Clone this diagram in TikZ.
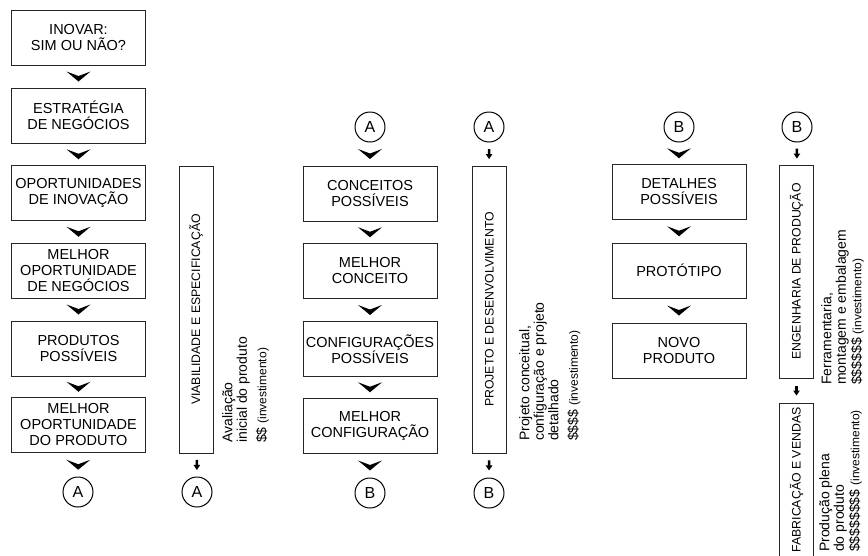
\documentclass[tikz,border=0pt]{standalone}
\usepackage{fontspec}
\setmainfont{Liberation Sans}
\usetikzlibrary{positioning, decorations.markings}
\tikzset{
    chev/.style args={#1 #2}{
        decoration={
            markings,
            mark= at position 0.5 with
                {
                    \fill[black] (0.5*#1,0pt) -- (-0.5*#1,#2/2) -- (-0.05*#1,0pt) -- (-0.5*#1,#2/-2) -- cycle;
                },
        },
        postaction={decorate}
    },
    chev/.default={10pt 24pt}
}
\tikzset{
    barrow/.style args={#1 #2}{
        decoration={
            markings,
            mark= at position 0.5 with
                {
                    \draw[line width=#2] (-0.5*#1,0pt) -- (0.1*#1,0pt);
                    \fill[black] (0.5*#1,0pt) -- (0pt,1.4*#2) -- (0pt,-1.4*#2) -- cycle;
                },
        },
        postaction={decorate}
    },
    barrow/.default={10pt 2.4pt}
}
\tikzset{
    box/.style={draw=black!85, line width=0.9pt, minimum width=134pt, minimum height=55pt,
        inner sep=2pt, align=center, font=\fontsize{14.5}{16}\selectfont},
    bar/.style={draw=black!85, line width=0.9pt, rotate=90, minimum height=34pt,
        inner sep=2pt, font=\fontsize{12.3}{14}\selectfont},
    lbl/.style={draw, circle, line width=1pt, minimum size=30pt, inner sep=0pt,
        font=\fontsize{16}{16}\selectfont},
    side/.style={rotate=90, anchor=north west, align=left, inner sep=0pt,
        font=\fontsize{14}{14.5}\selectfont}
}
\newcommand{\invest}{{\fontsize{12}{14}\selectfont(investimento)}}

\begin{document}
\begin{tikzpicture}[x=1pt, y=-1pt]
    \useasboundingbox (0,0) rectangle (868,555);
    \clip (0,0) rectangle (868,555);
    \def \colA {78.5}
    \def \colB {370}
    \def \colC {679}
    % first column
    \node[box] (b1) at (\colA,37.5) {INOVAR:\\SIM OU NÃO?};
    \node[box] (b2) at (\colA,115.5) {ESTRATÉGIA\\DE NEGÓCIOS};
    \node[box] (b3) at (\colA,193) {OPORTUNIDADES\\DE INOVAÇÃO};
    \node[box] (b4) at (\colA,270.5) {MELHOR\\OPORTUNIDADE\\DE NEGÓCIOS};
    \node[box] (b5) at (\colA,348.5) {PRODUTOS\\POSSÍVEIS};
    \node[box] (b6) at (\colA,425) {MELHOR\\OPORTUNIDADE\\DO PRODUTO};
    \node[lbl] (ca1) at (78,492) {A};
    \node[bar, minimum width=287pt] (v1) at (196,309.5) {VIABILIDADE E ESPECIFICAÇÃO};
    \node[lbl] (va) at (197,492) {A};
    \node[side] (t1) at (222,443) {Avaliação\\inicial do produto\\[5pt]\$\$ \invest};
    \foreach \a/\b in {b1/b2, b2/b3, b3/b4, b4/b5, b5/b6, b6/ca1}
        \path[chev] (\a) -- (\b);
    \path[barrow] (v1) -- (va);
    % second column
    \node[lbl] (ca2) at (\colB,127) {A};
    \node[box] (c1) at (\colB,193.5) {CONCEITOS\\POSSÍVEIS};
    \node[box] (c2) at (\colB,271) {MELHOR\\CONCEITO};
    \node[box] (c3) at (\colB,349) {CONFIGURAÇÕES\\POSSÍVEIS};
    \node[box] (c4) at (\colB,425.5) {MELHOR\\CONFIGURAÇÃO};
    \node[lbl] (cb1) at (\colB,493) {B};
    \node[lbl] (pa) at (489,127) {A};
    \node[bar, minimum width=287pt] (v2) at (489.5,309.5) {PROJETO E DESENVOLVIMENTO};
    \node[lbl] (pb) at (489,493) {B};
    \node[side] (t2) at (519,441) {Projeto conceitual,\\configuração e projeto\\detalhado\\[5pt]\$\$\$\$ \invest};
    \foreach \a/\b in {ca2/c1, c1/c2, c2/c3, c3/c4, c4/cb1}
        \path[chev] (\a) -- (\b);
    \path[barrow] (pa) -- (v2);
    \path[barrow] (v2) -- (pb);
    % third column
    \node[lbl] (cb2) at (\colC,127) {B};
    \node[box] (d1) at (\colC,192) {DETALHES\\POSSÍVEIS};
    \node[box] (d2) at (\colC,270.5) {PROTÓTIPO};
    \node[box] (d3) at (\colC,350.5) {NOVO\\PRODUTO};
    \node[lbl] (eb) at (797,127) {B};
    \node[bar, minimum width=213pt] (v3) at (796.5,271.5) {ENGENHARIA DE PRODUÇÃO};
    \node[bar, minimum width=154pt] (v4) at (796.5,480) {FABRICAÇÃO E VENDAS};
    \node[side] (t3) at (821,385) {Ferramentaria,\\montagem e embalagem\\[1pt]\$\$\$\$\$\$ \invest};
    \node[side] (t4) at (819,552) {Produção plena\\do produto\\[1pt]\$\$\$\$\$\$\$\$ \invest};
    \foreach \a/\b in {cb2/d1, d1/d2, d2/d3}
        \path[chev] (\a) -- (\b);
    \path[barrow] (eb) -- (v3);
    \path[barrow] (v3) -- (v4);
\end{tikzpicture}
\end{document}
